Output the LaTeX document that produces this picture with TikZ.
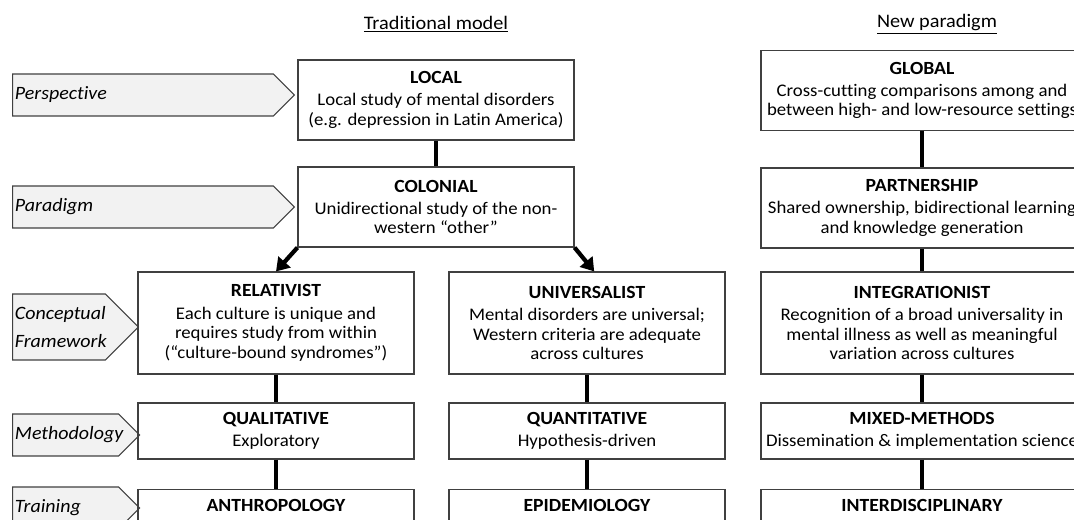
\documentclass[tikz,border=0pt]{standalone}
\usepackage{fontspec}
\setmainfont{Carlito}[FakeStretch=1.06, Ligatures=NoCommon]
\usetikzlibrary{shapes,arrows.meta,positioning}
\newcommand{\boxtitle}[1]{{\fontsize{13.2}{16}\selectfont\textbf{#1}}\\[2pt]}

\begin{document}
\begin{tikzpicture}[
  txt/.style={font=\fontsize{12.6}{13.9}\selectfont},
  box/.style={txt, rectangle, draw=black!75, line width=0.8pt, minimum width=6.9cm, minimum height=2cm, align=center, inner xsep=0pt, inner ysep=2pt},
  widebox/.style={box, minimum width=8.05cm},
  openbox/.style={box, anchor=north, inner ysep=0.22cm, text depth=1.2cm},
  tag/.style={signal, signal to=east, draw=black!75, fill=black!5, line width=0.8pt, font=\fontsize{13.4}{20.5}\selectfont\itshape, align=left, inner xsep=0.06cm, inner ysep=0pt, minimum height=1.05cm, anchor=west},
  link/.style={line width=2.8pt},
  arrow/.style={-{Triangle[length=0.32cm,width=0.4cm]}, line width=3pt}
]
\useasboundingbox (0,0) rectangle (26.85,13);
\clip (0,0) rectangle (26.85,13);
% Column headings
\node[font=\fontsize{13.6}{16}\selectfont] (trad) at (10.9, 12.4) {\underline{Traditional model}};
\node[font=\fontsize{13.6}{16}\selectfont] (new) at (23.425, 12.4) {\underline{New paradigm}};

% Row labels
\node[tag, text width=6.4cm] (persp) at (0.3, 10.625) {Perspective};
\node[tag, text width=6.4cm] (parad) at (0.3, 7.825) {Paradigm};
\node[tag, text width=2.2cm, minimum height=1.65cm] (concept) at (0.3, 4.825) {Conceptual\\Framework};
\node[tag, text width=2.53cm] (method) at (0.3, 2.125) {Methodology};
\node[tag, text width=2.53cm] (train) at (0.3, 0.3) {Training};

% Traditional model
\node[box] (local) at (10.9, 10.5) {\boxtitle{LOCAL}Local study of mental disorders\\(e.g. depression in Latin America)};
\node[box] (colonial) at (10.9, 7.825) {\boxtitle{COLONIAL}Unidirectional study of the non-\\western “other”};
\draw[link] (local) -- (colonial);

\node[box, minimum height=2.55cm] (relativist) at (6.9, 4.925) {\boxtitle{RELATIVIST}Each culture is unique and\\requires study from within\\(“culture-bound syndromes”)};
\node[box, minimum height=1.4cm] (qualitative) at (6.9, 2.225) {\boxtitle{QUALITATIVE}Exploratory};
\node[openbox] (anthro) at (6.9, 0.775) {\textbf{\fontsize{13.2}{16}\selectfont ANTHROPOLOGY}};
\draw[link] (relativist) -- (qualitative);
\draw[link] (qualitative) -- (anthro);

\node[box, minimum height=2.55cm] (universalist) at (14.675, 4.925) {\boxtitle{UNIVERSALIST}Mental disorders are universal;\\Western criteria are adequate\\across cultures};
\node[box, minimum height=1.4cm] (quantitative) at (14.675, 2.225) {\boxtitle{QUANTITATIVE}Hypothesis-driven};
\node[openbox] (epi) at (14.675, 0.775) {\textbf{\fontsize{13.2}{16}\selectfont EPIDEMIOLOGY}};
\draw[link] (universalist) -- (quantitative);
\draw[link] (quantitative) -- (epi);

\draw[arrow] (colonial.south west) -- (relativist.north);
\draw[arrow] (colonial.south east) -- ([xshift=0.18cm]universalist.north);

% New paradigm
\node[widebox] (global) at (23.05, 10.7375) {\boxtitle{GLOBAL}Cross-cutting comparisons among and\\between high- and low-resource settings};
\node[widebox] (partner) at (23.05, 7.8) {\boxtitle{PARTNERSHIP}Shared ownership, bidirectional learning\\and knowledge generation};
\node[widebox, minimum height=2.55cm] (integr) at (23.05, 4.925) {\boxtitle{INTEGRATIONIST}Recognition of a broad universality in\\mental illness as well as meaningful\\variation across cultures};
\node[widebox, minimum height=1.4cm] (mixed) at (23.05, 2.225) {\boxtitle{MIXED-METHODS}Dissemination \& implementation science};
\node[openbox, minimum width=8.05cm] (interdisc) at (23.05, 0.775) {\textbf{\fontsize{13.2}{16}\selectfont INTERDISCIPLINARY}};
\draw[link] (global) -- (partner);
\draw[link] (partner) -- (integr);
\draw[link] (integr) -- (mixed);
\draw[link] (mixed) -- (interdisc);
\end{tikzpicture}
\end{document}
